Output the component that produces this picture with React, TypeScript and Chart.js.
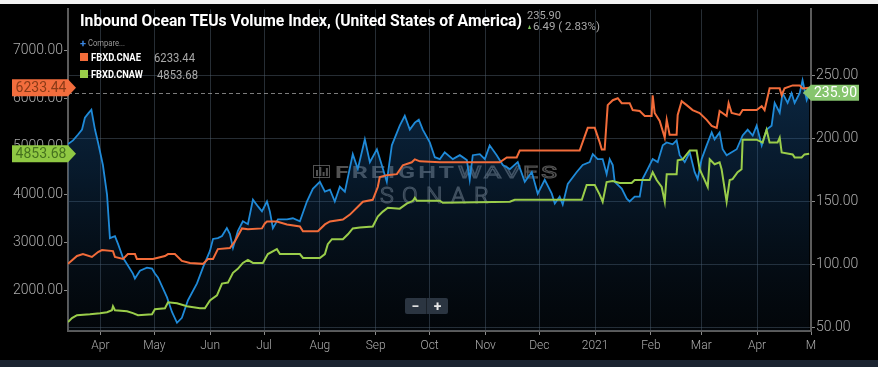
import React, { useEffect, useLayoutEffect, useRef } from 'react';
import { Chart, registerables } from 'chart.js';

Chart.register(...registerables);

// x values are days since 2020-03-14
const monthTickDays = [18, 48, 79, 109, 140, 171, 201, 232, 262, 293, 324, 352, 383, 413];
const monthTickLabels = ['Apr', 'May', 'Jun', 'Jul', 'Aug', 'Sep', 'Oct', 'Nov', 'Dec', '2021', 'Feb', 'Mar', 'Apr', 'M'];
const leftTicks = [2000, 3000, 4000, 5000, 6000, 7000];
const rightTicks = [50, 100, 150, 200, 250];

// Inbound Ocean TEUs Volume Index (right axis)
const blueDays = [
  0, 2.8, 5.6, 7.8, 9.4, 11.5, 13, 15, 16.7, 19.4,
  21.7, 23.3, 26.1, 27.8, 30.6, 36.1, 37.2, 40, 43.9, 46.7,
  48.3, 50, 55, 57.8, 60.6, 63.3, 66.7, 71.7, 75, 78.9,
  80.6, 83.3, 85.6, 88.3, 90, 91.7, 94.4, 97.2, 100, 102.8,
  105.6, 107.8, 110.6, 112.2, 113.9, 116.7, 121.7, 125, 128.9, 132.8,
  136.1, 140, 142.8, 145.6, 148.3, 151.1, 153.9, 158.3, 161.1, 165,
  167.8, 171.7, 174.4, 177.2, 180, 184.4, 187.2, 190, 192.8, 195,
  197.2, 201.1, 203.9, 206.7, 209.4, 213.9, 217.8, 221.7, 223.3, 225,
  228.9, 231.7, 234.4, 238.3, 241.7, 245.6, 250, 253.9, 257.8, 261.1,
  265, 268.9, 270.6, 273.3, 275, 277.8, 282.8, 286.1, 290, 291.7,
  294.4, 297.2, 299.4, 301.1, 302.8, 303.9, 307.8, 310.6, 312.2, 315,
  317.8, 319.4, 322.2, 325, 327.8, 330.6, 332.8, 336.1, 338.3, 340,
  342.8, 345.6, 348.3, 350, 352.2, 355, 357.8, 359.4, 362.2, 363.9,
  366.1, 368.9, 371.7, 375, 377.8, 380.6, 382.8, 385.6, 388.3, 391.1,
  392.8, 395.6, 397.2, 400, 402.2, 403.9, 406.7, 408.3, 410.6, 412,
];
const blueValues = [
  195.3, 198.2, 202.9, 206.8, 216.2, 220.0, 222.5, 206.8, 196.6, 178.7,
  155.2, 120.8, 122.4, 116.2, 105.2, 92.7, 88.8, 95.0, 97.4, 96.6,
  92.7, 89.6, 74.0, 62.3, 53.7, 57.6, 71.6, 84.9, 97.4, 110.7,
  120.1, 120.8, 122.4, 128.7, 124.0, 113.0, 126.3, 134.1, 131.8, 151.3,
  145.9, 142.0, 149.8, 142.0, 128.7, 135.7, 135.7, 136.5, 134.1, 149.8,
  159.9, 165.4, 157.6, 159.1, 149.8, 161.5, 157.6, 187.3, 175.5, 199.0,
  181.0, 191.2, 178.7, 165.4, 194.3, 209.9, 217.7, 206.8, 212.3, 214.6,
  206.8, 196.6, 184.9, 183.4, 188.8, 183.4, 186.5, 182.6, 167.0, 186.5,
  187.3, 183.4, 194.3, 186.5, 178.7, 175.5, 181.0, 165.4, 173.2, 156.0,
  167.0, 156.0, 148.2, 153.7, 147.4, 163.8, 173.2, 178.7, 181.0, 187.3,
  183.4, 183.4, 171.6, 183.4, 178.7, 165.4, 160.0, 152.1, 149.8, 153.7,
  153.7, 167.7, 175.5, 183.4, 181.0, 194.3, 196.6, 195.1, 198.2, 186.5,
  181.0, 188.8, 173.2, 167.7, 183.4, 194.3, 204.5, 199.0, 204.5, 191.2,
  186.5, 188.8, 191.2, 202.1, 206.8, 202.1, 209.9, 194.3, 206.8, 209.9,
  227.9, 220.1, 235.7, 227.9, 235.7, 227.9, 235.7, 245.9, 230.2, 235.9,
];

// FBXD.CNAE (left axis)
const orangeDays = [
  0, 5, 8.3, 13.3, 16.7, 18.9, 25, 26.1, 30.6, 33.3,
  37.2, 38.3, 47.2, 53.9, 55.6, 59.4, 63.3, 67.8, 75, 77.8,
  80.6, 83.3, 90, 92.8, 96.7, 100, 107.8, 109.4, 110.6, 116.1,
  121.7, 128.9, 130.6, 138.9, 142.8, 145.6, 152.8, 156.7, 161.1, 163.9,
  169.4, 172.2, 173.3, 177.2, 182.8, 186.1, 191.1, 192.8, 195.6, 206.7,
  240, 243.9, 249.4, 251.1, 258.3, 284.4, 288.9, 292.8, 295.6, 296.7,
  298.3, 300, 302.8, 305.6, 307.8, 312.2, 313.9, 317.8, 320.6, 324.4,
  325, 326.1, 328.9, 331.7, 332.8, 334.4, 338.3, 338.9, 341.1, 343.9,
  347.2, 351.1, 355, 357.8, 360.6, 362.2, 366.1, 367.2, 368.9, 373.3,
  375, 382.8, 385.6, 387.2, 390, 395.6, 396.7, 398.3, 402.8, 406.7,
  408.3, 412,
];
const orangeValues = [
  2556, 2720, 2761, 2700, 2802, 2844, 2823, 2700, 2658, 2761,
  2761, 2658, 2658, 2720, 2761, 2761, 2617, 2576, 2556, 2658,
  2658, 2864, 2885, 3029, 3296, 3276, 3296, 3399, 3440, 3440,
  3379, 3338, 3235, 3235, 3379, 3440, 3481, 3584, 3749, 3852,
  3893, 4160, 4366, 4407, 4428, 4613, 4675, 4737, 4696, 4675,
  4675, 4778, 4778, 4922, 4922, 4922, 5395, 5395, 5086, 4942,
  4942, 5868, 5971, 6012, 5909, 5909, 5765, 5745, 5642, 5642,
  6074, 5704, 5539, 5189, 5560, 5251, 5251, 5663, 5951, 5868,
  5765, 5704, 5560, 5436, 5395, 5745, 5642, 5909, 5704, 5663,
  5765, 5765, 5848, 5765, 6218, 6218, 6074, 6218, 6280, 6280,
  6218, 6233.44,
];

// FBXD.CNAW (left axis)
const greenDays = [
  0, 2.2, 5, 12.2, 17.8, 21.7, 24.4, 25, 26.1, 32.8,
  36.1, 38.9, 46.7, 48.3, 53.9, 55.6, 60.6, 66.1, 73.3, 76.1,
  78.9, 82.8, 85.6, 88.9, 91.7, 94.4, 97.2, 100, 102.8, 108.3,
  111.1, 116.1, 117.8, 128.9, 130.6, 140, 142.8, 144.4, 146.7, 152.8,
  155.6, 158.3, 162.2, 169.4, 172.2, 175, 177.8, 184.4, 188.3, 191.7,
  192.8, 193.9, 206.7, 208.3, 245.6, 248.3, 285.6, 288.3, 292.8, 295.6,
  297.2, 299.4, 302.8, 306.7, 313.3, 315, 323.3, 325, 327.2, 330,
  331.7, 332.8, 338.3, 338.9, 341.7, 345.6, 349.4, 351.1, 353.9, 355.6,
  356.7, 359.4, 362.2, 363.3, 366.1, 367.8, 369.4, 372.2, 374.4, 375,
  382.8, 386.1, 388.3, 390, 394.4, 395.6, 396.7, 402.8, 403.9, 407.8,
  409.4, 412,
];
const greenValues = [
  1342, 1424, 1486, 1506, 1527, 1547, 1589, 1671, 1589, 1568,
  1527, 1486, 1506, 1609, 1630, 1753, 1733, 1671, 1630, 1630,
  1794, 1897, 2144, 2165, 2370, 2453, 2576, 2638, 2576, 2576,
  2761, 2864, 2761, 2761, 2679, 2679, 2761, 2967, 3070, 3070,
  3173, 3296, 3317, 3337, 3543, 3646, 3728, 3708, 3811, 3872,
  3934, 3872, 3872, 3831, 3852, 3893, 3893, 4202, 4202, 3996,
  3852, 4263, 4284, 4243, 4243, 4305, 4305, 4469, 4305, 4160,
  3852, 4428, 4428, 4716, 4737, 4922, 4922, 4531, 4305, 4160,
  4737, 4634, 4675, 4531, 3852, 4305, 4325, 4469, 4531, 5148,
  5148, 5086, 5354, 5086, 5086, 5189, 4881, 4840, 4778, 4778,
  4840, 4853.68,
];

const ORANGE = '#f26c3a';
const GREEN = '#9acd4a';
const BLUE = '#1f8ad8';

const toPoints = (xs: number[], ys: number[]) => xs.map((x, i) => ({ x, y: ys[i] }));
const last = (a: number[]) => a[a.length - 1];
const fmt = (v: number) => v.toFixed(2);

function drawFitText(ctx: CanvasRenderingContext2D, text: string, font: string, x: number, y: number, w: number, color: string, stroke: boolean, spacing = '0px') {
  ctx.save();
  ctx.font = font;
  (ctx as any).letterSpacing = spacing;
  const m = ctx.measureText(text).width;
  ctx.translate(x, y);
  ctx.scale(w / m, 1);
  ctx.textBaseline = 'alphabetic';
  ctx.textAlign = 'left';
  if (stroke) {
    ctx.strokeStyle = color;
    ctx.lineWidth = 1.1;
    ctx.strokeText(text, 0, 0);
  } else {
    ctx.fillStyle = color;
    ctx.fillText(text, 0, 0);
  }
  ctx.restore();
}

const backPlugin = {
  id: 'backPlugin',
  beforeDatasetsDraw(chart: any) {
    const { ctx, chartArea, scales } = chart;
    const col = 'rgba(150,150,150,0.55)';
    ctx.save();
    // watermark logo
    ctx.strokeStyle = col;
    ctx.lineWidth = 1;
    ctx.strokeRect(313.5, 165.5, 16, 12);
    ctx.fillStyle = col;
    for (let i = 0; i < 4; i++) {
      const h = [6, 9, 4, 8][i];
      ctx.fillRect(316 + i * 3.3, 176 - h, 2, h);
    }
    ctx.restore();
    drawFitText(ctx, 'FREIGHT', 'bold 17px Roboto', 335, 177.5, 122, col, false, '2px');
    drawFitText(ctx, 'WAVES', '17px Roboto', 458, 177.5, 102, col, true, '2px');
    drawFitText(ctx, 'SONAR', '300 22px Roboto', 380, 203, 117, col, true, '8px');
    // dashed last-value line
    const yb = Math.round(scales.y1.getPixelForValue(last(blueValues))) + 0.5;
    ctx.save();
    ctx.setLineDash([4, 3]);
    ctx.strokeStyle = 'rgba(165,165,165,0.75)';
    ctx.lineWidth = 1;
    ctx.beginPath();
    ctx.moveTo(chartArea.left, yb);
    ctx.lineTo(chartArea.right, yb);
    ctx.stroke();
    ctx.restore();
  },
};

function leftTag(ctx: CanvasRenderingContext2D, ax: number, y: number, text: string, bg: string, fg: string) {
  const h = 8.5;
  const x0 = 12;
  ctx.beginPath();
  ctx.moveTo(x0, y - h);
  ctx.lineTo(ax, y - h);
  ctx.lineTo(ax + 8, y);
  ctx.lineTo(ax, y + h);
  ctx.lineTo(x0, y + h);
  ctx.closePath();
  ctx.fillStyle = bg;
  ctx.fill();
  ctx.fillStyle = fg;
  ctx.font = '14px Roboto';
  ctx.textAlign = 'center';
  ctx.textBaseline = 'middle';
  ctx.fillText(text, (x0 + ax) / 2 + 1, y + 0.5);
}

function rightTag(ctx: CanvasRenderingContext2D, ax: number, y: number, text: string, bg: string, fg: string) {
  const h = 8;
  const x1 = 859;
  ctx.beginPath();
  ctx.moveTo(ax - 8, y);
  ctx.lineTo(ax, y - h);
  ctx.lineTo(x1, y - h);
  ctx.lineTo(x1, y + h);
  ctx.lineTo(ax, y + h);
  ctx.closePath();
  ctx.fillStyle = bg;
  ctx.fill();
  ctx.fillStyle = fg;
  ctx.font = '14px Roboto';
  ctx.textAlign = 'center';
  ctx.textBaseline = 'middle';
  ctx.fillText(text, (ax + x1) / 2 + 0.5, y + 0.5);
}

const tagPlugin = {
  id: 'tagPlugin',
  afterDraw(chart: any) {
    const { ctx, chartArea, scales } = chart;
    ctx.save();
    leftTag(ctx, chartArea.left, scales.y.getPixelForValue(last(orangeValues)), fmt(last(orangeValues)), '#f26d3d', '#8a3b17');
    leftTag(ctx, chartArea.left, scales.y.getPixelForValue(last(greenValues)), fmt(last(greenValues)), '#8fc843', '#46721f');
    rightTag(ctx, chartArea.right, scales.y1.getPixelForValue(last(blueValues)), fmt(last(blueValues)), '#86c56e', '#ffffff');
    ctx.restore();
  },
};

function Fit(props: { x: number; baseline: number; w: number; size: number; weight?: number; color: string; children: React.ReactNode }) {
  const ref = useRef<HTMLSpanElement>(null);
  useLayoutEffect(() => {
    const el = ref.current;
    if (!el) return;
    el.style.transform = 'none';
    const natural = el.getBoundingClientRect().width;
    if (natural > 0) el.style.transform = `scaleX(${props.w / natural})`;
  });
  return (
    <span
      ref={ref}
      style={{
        position: 'absolute',
        left: props.x,
        top: props.baseline - 0.842 * props.size,
        fontSize: props.size,
        lineHeight: `${props.size}px`,
        fontFamily: 'Roboto, sans-serif',
        fontWeight: props.weight ?? 400,
        color: props.color,
        whiteSpace: 'nowrap',
        transformOrigin: 'left top',
        display: 'inline-block',
      }}
    >
      {props.children}
    </span>
  );
}

export default function App() {
  const canvasRef = useRef<HTMLCanvasElement>(null);

  useEffect(() => {
    if (!canvasRef.current) return;
    Chart.defaults.font.family = 'Roboto';
    const tickColor = '#acacac';
    const gridColor = 'rgba(85,100,115,0.45)';
    const chart = new Chart(canvasRef.current, {
      type: 'line',
      data: {
        datasets: [
          {
            label: 'FBXD.CNAE',
            data: toPoints(orangeDays, orangeValues),
            yAxisID: 'y',
            borderColor: ORANGE,
            borderWidth: 2,
            pointRadius: 0,
            fill: false,
            tension: 0,
          },
          {
            label: 'FBXD.CNAW',
            data: toPoints(greenDays, greenValues),
            yAxisID: 'y',
            borderColor: GREEN,
            borderWidth: 2,
            pointRadius: 0,
            fill: false,
            tension: 0,
          },
          {
            label: 'Inbound Ocean TEUs Volume Index',
            data: toPoints(blueDays, blueValues),
            yAxisID: 'y1',
            borderColor: BLUE,
            borderWidth: 1.8,
            pointRadius: 0,
            tension: 0,
            fill: 'start',
            backgroundColor: (c: any) => {
              const ca = c.chart.chartArea;
              if (!ca) return 'rgba(20,80,140,0.3)';
              const g = c.chart.ctx.createLinearGradient(0, ca.top, 0, ca.bottom);
              g.addColorStop(0, 'rgba(30,110,185,0.45)');
              g.addColorStop(0.5, 'rgba(25,85,145,0.3)');
              g.addColorStop(1, 'rgba(20,50,80,0.12)');
              return g;
            },
          },
        ],
      },
      options: {
        animation: false,
        responsive: false,
        devicePixelRatio: 1,
        layout: { padding: { top: 5, left: 0, right: 0, bottom: 0 } },
        plugins: { legend: { display: false }, tooltip: { enabled: false }, title: { display: false } },
        scales: {
          x: {
            type: 'linear',
            min: 0,
            max: 413,
            afterBuildTicks: (s: any) => {
              s.ticks = monthTickDays.map((v) => ({ value: v }));
            },
            afterFit: (s: any) => {
              s.height = 36;
            },
            ticks: {
              autoSkip: false,
              maxRotation: 0,
              color: tickColor,
              padding: 4,
              font: { size: 12, weight: 300 as any },
              callback: (_v: any, i: number) => monthTickLabels[i],
            },
            grid: { color: gridColor, tickColor: '#8a8a8a', tickLength: 4 },
            border: { color: '#5c5c5c', width: 2 },
          },
          y: {
            type: 'linear',
            position: 'left',
            min: 1155,
            max: 7866,
            afterBuildTicks: (s: any) => {
              s.ticks = leftTicks.map((v) => ({ value: v }));
            },
            afterFit: (s: any) => {
              s.width = 68;
            },
            ticks: {
              color: tickColor,
              padding: 1,
              font: { size: 14, weight: 300 as any },
              callback: (v: any) => Number(v).toFixed(2),
            },
            grid: { drawOnChartArea: false, tickColor: '#8a8a8a', tickLength: 4 },
            border: { color: '#5c5c5c', width: 2 },
          },
          y1: {
            type: 'linear',
            position: 'right',
            min: 47.2,
            max: 302,
            afterBuildTicks: (s: any) => {
              s.ticks = rightTicks.map((v) => ({ value: v }));
            },
            afterFit: (s: any) => {
              s.width = 67;
            },
            ticks: {
              color: tickColor,
              padding: 1,
              font: { size: 14, weight: 300 as any },
              callback: (v: any) => Number(v).toFixed(2),
            },
            grid: { color: gridColor, tickColor: '#8a8a8a', tickLength: 4 },
            border: { color: '#5c5c5c', width: 2 },
          },
        },
      } as any,
      plugins: [backPlugin, tagPlugin],
    });
    return () => chart.destroy();
  }, []);

  return (
    <div style={{ position: 'absolute', left: 0, top: 0, width: 878, height: 367, background: '#f2f2f2', overflow: 'hidden' }}>
      <div style={{ position: 'absolute', left: 0, top: 4, width: 878, height: 356, background: '#000' }} />
      <div style={{ position: 'absolute', left: 0, top: 360, width: 878, height: 7, background: '#1b2430' }} />
      <canvas ref={canvasRef} width={878} height={367} style={{ position: 'absolute', left: 0, top: 0, width: 878, height: 367 }} />
      <Fit x={80} baseline={26.5} w={442} size={16.5} weight={700} color="#ffffff">
        Inbound Ocean TEUs Volume Index, (United States of America)
      </Fit>
      <Fit x={527} baseline={19} w={34} size={11} color="#a8a8a8">235.90</Fit>
      <Fit x={527} baseline={30} w={5} size={7} color="#7dc35a">▲</Fit>
      <Fit x={533} baseline={30} w={67} size={11} color="#a8a8a8">6.49 ( 2.83%)</Fit>
      <Fit x={80} baseline={47} w={6} size={10} weight={700} color="#3a86e0">+</Fit>
      <Fit x={88} baseline={47} w={37} size={9} color="#9a9a9a">Compare...</Fit>
      <div style={{ position: 'absolute', left: 80, top: 53, width: 8, height: 8, background: ORANGE }} />
      <Fit x={91} baseline={61.5} w={50} size={11} weight={700} color="#ffffff">FBXD.CNAE</Fit>
      <Fit x={154} baseline={62} w={41} size={13} color="#a8a8a8">6233.44</Fit>
      <div style={{ position: 'absolute', left: 80, top: 70, width: 8, height: 8, background: GREEN }} />
      <Fit x={91} baseline={78.5} w={52} size={11} weight={700} color="#ffffff">FBXD.CNAW</Fit>
      <Fit x={157} baseline={79} w={41} size={13} color="#a8a8a8">4853.68</Fit>
      <div
        style={{
          position: 'absolute', left: 405, top: 298, width: 43, height: 16, background: '#2b3541', borderRadius: 2,
          display: 'flex', color: '#e8e8e8', fontFamily: 'Roboto, sans-serif', fontSize: 14, fontWeight: 700, lineHeight: '16px',
        }}
      >
        <span style={{ flex: 1, textAlign: 'center', borderRight: '1px solid #1a2129' }}>−</span>
        <span style={{ flex: 1, textAlign: 'center' }}>+</span>
      </div>
    </div>
  );
}
